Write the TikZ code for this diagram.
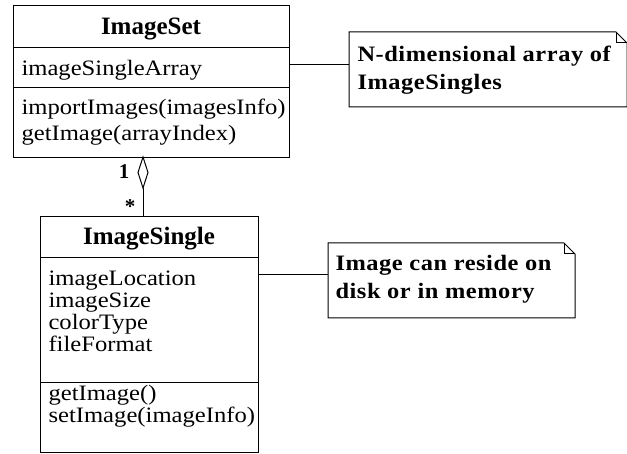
\documentclass[tikz,border=0pt]{standalone}
\usepackage{fontspec}
\setmainfont{Liberation Serif}
\newfontfamily\regf[FakeStretch=1.12]{Liberation Serif}
\newfontfamily\notef[FakeStretch=1.11,LetterSpace=2.5]{Liberation Serif}[BoldFont={Liberation Serif Bold}]
\begin{document}
\begin{tikzpicture}[x=1pt,y=-1pt,line width=1pt,
  cls/.style={draw,anchor=north west,inner sep=0pt},
  hdr/.style={anchor=base,inner sep=0pt,font=\fontsize{25}{26}\selectfont\bfseries},
  body/.style={anchor=base west,inner sep=0pt,align=left,font=\regf\fontsize{22}{26}\selectfont},
  body2/.style={body,font=\regf\fontsize{22}{22.3}\selectfont},
  note/.style={anchor=north west,inner sep=0pt},
  notetxt/.style={anchor=base west,inner sep=0pt,align=left,font=\notef\fontsize{22}{28.5}\selectfont\bfseries},
  mult/.style={inner sep=0pt,font=\fontsize{21}{22}\selectfont\bfseries}]
\useasboundingbox (0,0) rectangle (627,454);
% ImageSet
\node[cls,minimum width=276pt,minimum height=152pt] (set) at (13,5) {};
\draw (13,48) -- (289,48);
\draw (13,88) -- (289,88);
\node[hdr] (setname) at (151,35) {ImageSet};
\node[body] (setattr) at (21,76) {imageSingleArray};
\node[body] (setops) at (21,141) {importImages(imagesInfo)\\getImage(arrayIndex)};
% ImageSingle
\node[cls,minimum width=218pt,minimum height=236pt] (single) at (40,216) {};
\draw (40,258) -- (258,258);
\draw (40,383) -- (258,383);
\node[hdr] (singlename) at (149,245) {ImageSingle};
\node[body2] (singleattr) at (48,352) {imageLocation\\imageSize\\colorType\\fileFormat};
\node[body2] (singleops) at (48,423) {getImage()\\setImage(imageInfo)};
% aggregation
\coordinate (dtop) at (143,157);
\coordinate (dbot) at (143,188);
\draw[fill=white] (dtop) -- (148,172.5) -- (dbot) -- (138,172.5) -- cycle;
\draw (dbot) -- (143,216);
\node[mult] (m1) at (124,172) {1};
\node[mult] (m2) at (130,207) {*};
% note 1
\node[note,minimum width=277pt,minimum height=74pt] (n1) at (349,32) {};
\draw (n1.south west) -- (n1.north west) -- ([xshift=-11pt]n1.north east) -- ([yshift=-11pt]n1.north east) -- (n1.south east) -- cycle;
\draw ([xshift=-11pt]n1.north east) -- ([xshift=-11pt,yshift=-11pt]n1.north east) -- ([yshift=-11pt]n1.north east);
\node[notetxt] (n1t) at (357,90) {N-dimensional array of\\ImageSingles};
\draw (289,65) -- (n1.west |- 0,65);
% note 2
\node[note,minimum width=246pt,minimum height=74pt] (n2) at (328,243) {};
\draw (n2.south west) -- (n2.north west) -- ([xshift=-11pt]n2.north east) -- ([yshift=-11pt]n2.north east) -- (n2.south east) -- cycle;
\draw ([xshift=-11pt]n2.north east) -- ([xshift=-11pt,yshift=-11pt]n2.north east) -- ([yshift=-11pt]n2.north east);
\node[notetxt] (n2t) at (335,299) {Image can reside on\\disk or in memory};
\draw (258,275) -- (n2.west |- 0,275);
\end{tikzpicture}
\end{document}
